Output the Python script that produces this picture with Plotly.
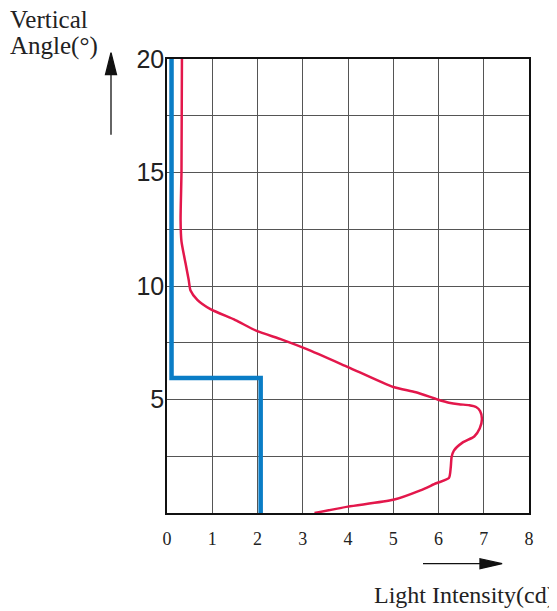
import plotly.graph_objects as go

# blue profile (step line)
blue_x = [0.1, 0.1, 2.07, 2.07]
blue_y = [20.2, 5.95, 5.95, 0]

# red curve: light intensity (cd) against vertical angle (deg)
red_y = [20, 15, 12.9, 11.97, 11.0, 10.26, 9.80, 9.39, 8.98, 8.50, 8.02, 7.64, 7.22,
         6.43, 5.55, 5.32, 5.0, 4.86, 4.79, 4.75, 4.67, 4.49, 4.14, 3.72, 3.37, 3.10,
         2.75, 2.47, 2.0, 1.54, 1.31, 1.0, 0.58, 0.28, 0]
red_x = [0.33, 0.32, 0.30, 0.32, 0.41, 0.48, 0.52, 0.67, 0.96, 1.51, 1.98, 2.54, 3.09,
         4.0, 5.0, 5.50, 5.98, 6.23, 6.45, 6.68, 6.83, 6.92, 6.96, 6.91, 6.79, 6.53,
         6.34, 6.29, 6.27, 6.23, 5.95, 5.60, 5.0, 4.0, 3.26]

x_ticks = [0, 1, 2, 3, 4, 5, 6, 7, 8]
y_ticks = [0, 2.5, 5, 7.5, 10, 12.5, 15, 17.5, 20]
y_text = ["", "", "5", "", "10", "", "15", "", "20"]

serif = "Liberation Serif, Times New Roman, serif"
sans = "Liberation Sans, Arial, sans-serif"

fig = go.Figure()
fig.add_trace(go.Scatter(x=blue_x, y=blue_y, mode="lines",
                         line=dict(color="#0a7dc6", width=4.5)))
fig.add_trace(go.Scatter(x=red_x, y=red_y, mode="lines",
                         line=dict(color="#e3174b", width=2.5, shape="spline", smoothing=0.6)))

# page body has an 8px margin, so the figure is a bit smaller than the window
fig.update_layout(
    width=549, height=603, autosize=False,
    margin=dict(l=159, r=28, t=51, b=98, pad=0),
    paper_bgcolor="white", plot_bgcolor="white",
    showlegend=False,
    xaxis=dict(range=[0, 8], tickvals=x_ticks, ticks="", ticklabelstandoff=9,
               showgrid=True, gridcolor="#555555", gridwidth=1.3, zeroline=False,
               showline=True, linecolor="#111111", linewidth=1.5, mirror=True,
               tickfont=dict(family=serif, size=18, color="#222222")),
    yaxis=dict(range=[0, 20], tickvals=y_ticks, ticktext=y_text, ticks="",
               ticklabelstandoff=-4,
               showgrid=True, gridcolor="#555555", gridwidth=1.3, zeroline=False,
               showline=True, linecolor="#111111", linewidth=1.5, mirror=True,
               tickfont=dict(family=sans, size=25, color="#222222")),
)

# axis titles
fig.add_annotation(text="Vertical", xref="paper", yref="paper", x=-0.439, y=1.088,
                   xanchor="left", yanchor="middle", showarrow=False,
                   font=dict(family=serif, size=25, color="#222222"))
fig.add_annotation(text="Angle(°)", xref="paper", yref="paper", x=-0.439, y=1.029,
                   xanchor="left", yanchor="middle", showarrow=False,
                   font=dict(family=serif, size=25, color="#222222"))
fig.add_annotation(text="Light Intensity(cd)", xref="paper", yref="paper", x=0.566, y=-0.181,
                   xanchor="left", yanchor="middle", showarrow=False,
                   font=dict(family=serif, size=24, color="#222222"))

# direction arrows (slender heads drawn as shapes)
arrow_style = dict(xref="paper", yref="paper", line=dict(color="#111111", width=1.3))
fig.add_shape(type="line", x0=-0.1547, x1=-0.1547, y0=0.8333, y1=0.97, **arrow_style)
fig.add_shape(type="path", path="M -0.1699 0.9654 L -0.1395 0.9654 L -0.1547 1.0139 Z",
              fillcolor="#111111", **arrow_style)
fig.add_shape(type="line", x0=0.7072, x1=0.87, y0=-0.1117, y1=-0.1117, **arrow_style)
fig.add_shape(type="path", path="M 0.8646 -0.1007 L 0.8646 -0.1227 L 0.9257 -0.1117 Z",
              fillcolor="#111111", **arrow_style)

fig.write_html("out.html")
